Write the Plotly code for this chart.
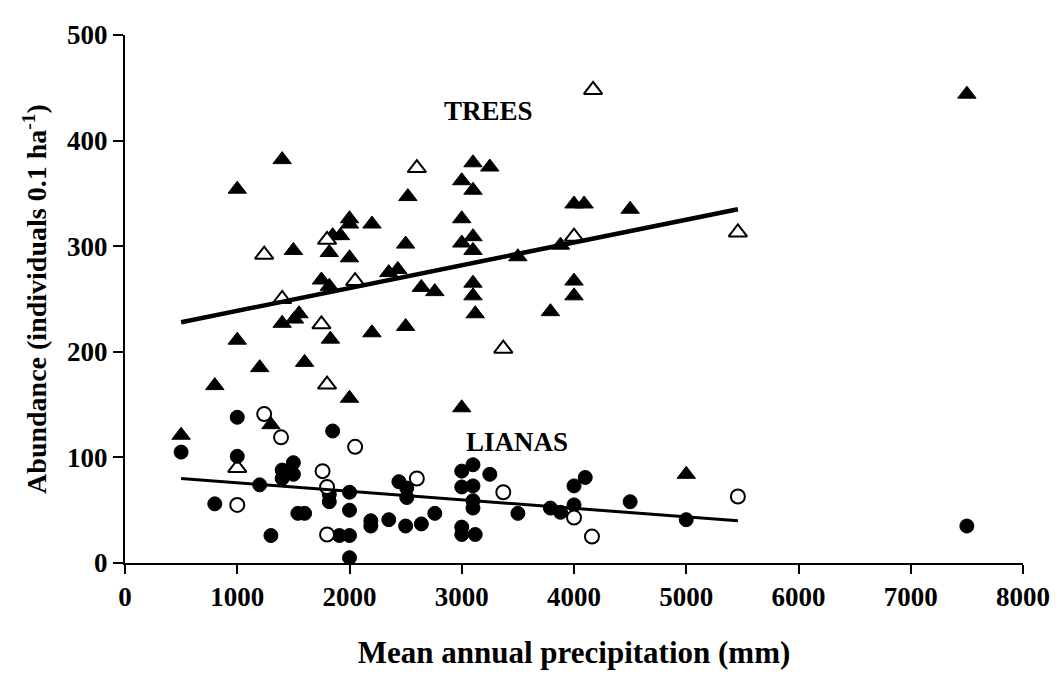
import plotly.graph_objects as go

# ---- data ----
tree_closed_x = [1000, 1400, 1500, 1820, 1850, 1920, 2000, 2000, 2200, 2000, 2520, 2500,
                 1750, 1820, 2350, 2430, 2640,
                 3100, 3250, 3000, 3100, 3000, 3100, 3000, 3100, 3500, 3880, 4000, 4090,
                 4500, 4000, 4000, 3100, 3100, 2760, 3120, 3790,
                 500, 800, 1000, 1200, 1400, 1510, 1550, 1600, 1830, 2200, 2500, 2000, 1300,
                 3000, 5000, 7500]
tree_closed_y = [354, 382, 296, 294, 310, 310, 326, 321, 321, 289, 347, 302,
                 268, 262, 275, 278, 261,
                 379, 375, 362, 353, 326, 309, 303, 296, 290, 301, 340, 340,
                 335, 267, 253, 265, 253, 257, 236, 238,
                 121, 168, 211, 185, 227, 231, 236, 190, 212, 218, 224, 156, 131,
                 147, 84, 444]

tree_open_x = [1240, 1800, 2050, 1400, 2600, 4170, 4000, 1000, 1750, 1800, 3370, 5460]
tree_open_y = [292, 306, 267, 250, 374, 448, 309, 90, 226, 169, 203, 313]

liana_closed_x = [500, 1000, 1000, 1850, 800, 1200, 1300, 1400, 1400, 1500, 1500, 1540,
                  1600, 1820, 1820, 1910, 2000, 2000, 2000, 2000, 2190, 2190, 2350, 2500,
                  2640, 2440, 2510, 2510, 2760, 3000, 3100, 3250, 3000, 3100, 3100, 3100,
                  3000, 3000, 3120, 3500, 3790, 3880, 4000, 4000, 4100, 4500, 5000, 7500]
liana_closed_y = [105, 138, 101, 125, 56, 74, 26, 88, 80, 95, 84, 47,
                  47, 65, 58, 26, 26, 67, 50, 5, 40, 35, 41, 35,
                  37, 77, 71, 62, 47, 87, 93, 84, 72, 73, 59, 52,
                  34, 27, 27, 47, 52, 48, 55, 73, 81, 58, 41, 35]

liana_open_x = [1240, 1390, 2050, 1000, 1760, 1800, 1800, 2600, 3370, 4000, 4160, 5460]
liana_open_y = [141, 119, 110, 55, 87, 72, 27, 80, 67, 43, 25, 63]

# regression lines (end points)
fit_x = [500, 5460]
tree_fit_y = [228, 335]
liana_fit_y = [80, 40]

x_ticks = [0, 1000, 2000, 3000, 4000, 5000, 6000, 7000, 8000]
y_ticks = [0, 100, 200, 300, 400, 500]

label_trees = "TREES"
label_lianas = "LIANAS"
label_pos = {"TREES": (3240, 428), "LIANAS": (3490, 115)}

FONT = "Liberation Serif, Times New Roman, serif"

fig = go.Figure()

tri_size = 16
circ_size = 14

fig.add_trace(go.Scatter(x=tree_closed_x, y=tree_closed_y, mode="markers",
                         marker=dict(symbol="triangle-up", size=tri_size, color="black",
                                     line=dict(color="black", width=1)),
                         cliponaxis=False, showlegend=False))
fig.add_trace(go.Scatter(x=tree_open_x, y=tree_open_y, mode="markers",
                         marker=dict(symbol="triangle-up", size=tri_size, color="white",
                                     line=dict(color="black", width=2)),
                         cliponaxis=False, showlegend=False))
fig.add_trace(go.Scatter(x=liana_closed_x, y=liana_closed_y, mode="markers",
                         marker=dict(symbol="circle", size=circ_size, color="black",
                                     line=dict(color="black", width=1)),
                         cliponaxis=False, showlegend=False))
fig.add_trace(go.Scatter(x=liana_open_x, y=liana_open_y, mode="markers",
                         marker=dict(symbol="circle", size=circ_size, color="white",
                                     line=dict(color="black", width=2)),
                         cliponaxis=False, showlegend=False))
fig.add_trace(go.Scatter(x=fit_x, y=tree_fit_y, mode="lines",
                         line=dict(color="black", width=4.5), showlegend=False))
fig.add_trace(go.Scatter(x=fit_x, y=liana_fit_y, mode="lines",
                         line=dict(color="black", width=3), showlegend=False))

for txt in (label_trees, label_lianas):
    lx, ly = label_pos[txt]
    fig.add_annotation(x=lx, y=ly, text=txt, showarrow=False,
                       font=dict(family=FONT, size=27, color="black", weight="bold"))

# The page body has an 8 px default margin, so the figure is drawn 8 px smaller
# and the margins are reduced by 8 px to keep the plot area where the reference has it.
fig.update_layout(
    width=1054, height=668,
    margin=dict(l=117, r=27, t=22, b=109),
    paper_bgcolor="white", plot_bgcolor="white",
    font=dict(family=FONT, color="black"),
    xaxis=dict(range=[0, 8000], tickvals=x_ticks, ticktext=[str(v) for v in x_ticks],
               showgrid=False, zeroline=False, showline=True, linecolor="black",
               linewidth=2, ticks="outside", ticklen=9, tickwidth=2, tickcolor="black",
               tickfont=dict(family=FONT, size=27, color="black", weight="bold"),
               title=dict(text="Mean annual precipitation (mm)", standoff=30,
                          font=dict(family=FONT, size=31, color="black", weight="bold"))),
    yaxis=dict(range=[0, 500], tickvals=y_ticks, ticktext=[str(v) for v in y_ticks],
               showgrid=False, zeroline=False, showline=True, linecolor="black",
               linewidth=2, ticks="outside", ticklen=10, tickwidth=2, tickcolor="black",
               tickfont=dict(family=FONT, size=27, color="black", weight="bold"),
               title=dict(text="Abundance (individuals 0.1 ha<sup>-1</sup>)", standoff=12,
                          font=dict(family=FONT, size=28, color="black", weight="bold"))),
)

fig.write_html("out.html")
